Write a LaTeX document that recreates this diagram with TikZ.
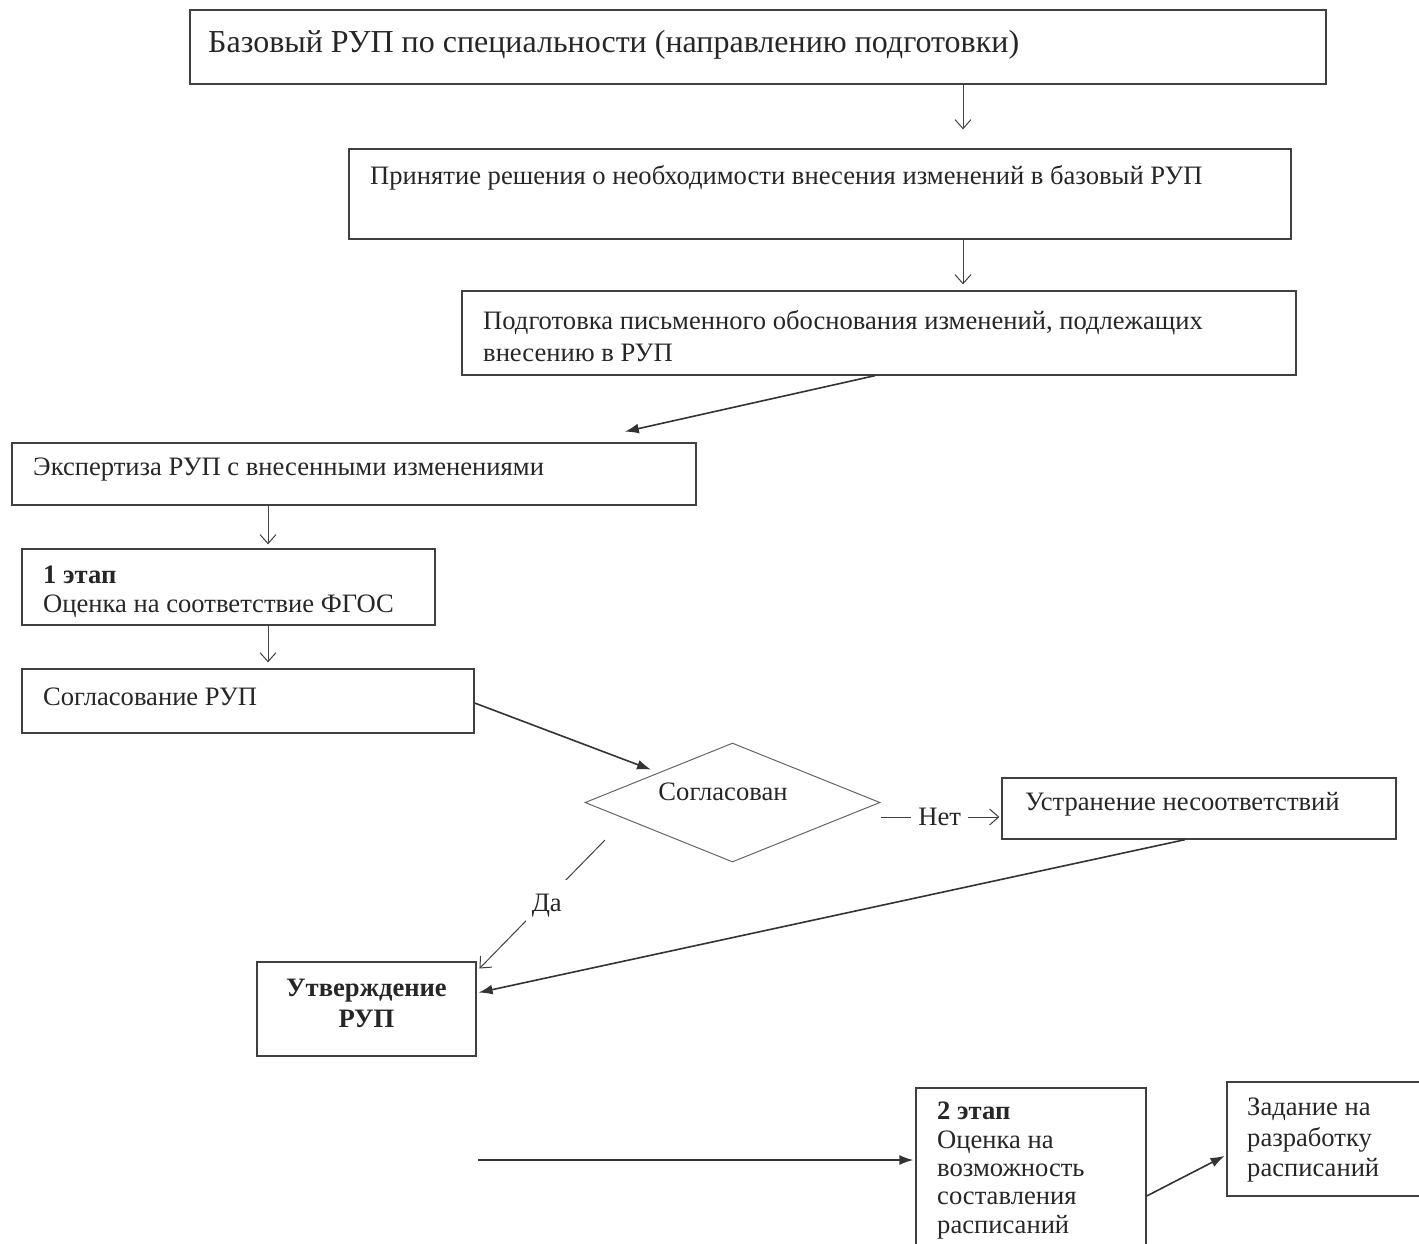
\documentclass[tikz,border=0pt]{standalone}
\usepackage{fontspec}
\setmainfont{Liberation Serif}
\usetikzlibrary{arrows.meta,shapes.geometric}
\begin{document}
\begin{tikzpicture}[x=1pt,y=-1pt,
  box/.style={draw=black!75, line width=1.3pt, rectangle, inner sep=0pt},
  txt/.style={inner sep=0pt, text=black!85, font=\fontsize{26.6}{29}\selectfont, align=left, anchor=west},
  thinarr/.style={draw=black!75, line width=1pt, -{Straight Barb[length=9pt,width=16pt]}},
  fillarr/.style={draw=black!80, line width=1.6pt, -{Latex[length=14pt,width=10pt]}},
  lbl/.style={fill=white, text=black!85, font=\fontsize{26.6}{29}\selectfont},
]
\useasboundingbox (0,0) rectangle (1419,1243);

% boxes
\node[box, minimum width=1136pt, minimum height=74pt] (b1) at (758,47) {};
\node[box, minimum width=942pt, minimum height=90pt] (b2) at (820,194) {};
\node[box, minimum width=834pt, minimum height=84pt] (b3) at (879,333) {};
\node[box, minimum width=684pt, minimum height=62pt] (b4) at (354,474) {};
\node[box, minimum width=413pt, minimum height=76pt] (b5) at (228.5,587) {};
\node[box, minimum width=452pt, minimum height=64pt] (b6) at (248,701) {};
\node[draw=black!60, line width=1pt, diamond, minimum width=295pt, minimum height=119pt, inner sep=0pt] (d) at (732.5,802.5) {};
\node[box, minimum width=394pt, minimum height=61pt] (b8) at (1199,808.5) {};
\node[box, minimum width=219pt, minimum height=94pt] (b9) at (366.5,1009) {};
\node[box, minimum width=230pt, minimum height=162pt] (b10) at (1031,1169) {};
\node[box, minimum width=200pt, minimum height=114pt] (b11) at (1327,1139) {};

% texts
\node[txt, font=\fontsize{32}{36}\selectfont] (t1) at (208,45) {Базовый РУП по специальности (направлению подготовки)};
\node[txt] (t2) at (370,178) {Принятие решения о необходимости внесения изменений в базовый РУП};
\node[txt, font=\fontsize{26.6}{32}\selectfont] (t3) at (483,336) {Подготовка письменного обоснования изменений, подлежащих\\внесению в РУП};
\node[txt] (t4) at (33,470) {Экспертиза РУП с внесенными изменениями};
\node[txt] (t5) at (43,591.5) {\textbf{1 этап}\\Оценка на соответствие ФГОС};
\node[txt] (t6) at (43,697) {Согласование РУП};
\node[txt, anchor=center] (td) at (723,792) {Согласован};
\node[txt] (t8) at (1025,804) {Устранение несоответствий};
\node[txt, anchor=center, align=center, font=\bfseries\fontsize{26.6}{31}\selectfont] (t9) at (366.5,1003.5) {Утверждение\\РУП};
\node[txt, font=\fontsize{26.6}{28.3}\selectfont] (t10) at (937,1170.5) {\textbf{2 этап}\\Оценка на\\возможность\\составления\\расписаний};
\node[txt, font=\fontsize{26.6}{30.5}\selectfont] (t11) at (1247,1140.5) {Задание на\\разработку\\расписаний};

% connectors
\draw[thinarr, shorten >=19pt] ([xshift=205pt]b1.south) -- ([xshift=143pt]b2.north);
\draw[thinarr, shorten >=6pt] ([xshift=143pt]b2.south) -- ([xshift=84pt]b3.north);
\draw[fillarr, shorten >=49pt] ([xshift=-4pt]b3.south) -- ([xshift=223pt]b4.north);
\draw[thinarr, shorten >=4pt] ([xshift=-86pt]b4.south) -- ([xshift=39.5pt]b5.north);
\draw[thinarr, shorten >=6pt] ([xshift=39.5pt]b5.south) -- ([xshift=20pt]b6.north);
\draw[fillarr, shorten >=8pt] ([yshift=-2pt]b6.east) -- (d.north west);
\draw[thinarr, shorten >=2pt] ([yshift=-14.5pt]d.east) -- node[lbl, pos=0.49, inner xsep=7pt, inner ysep=2pt] (net) {Нет} ([yshift=-8.5pt]b8.west);
\draw[thinarr, shorten >=4pt] ([xshift=-127.5pt,yshift=-37.5pt]d.center) -- node[lbl, pos=0.5, xshift=6pt, inner xsep=6pt, inner ysep=14pt] (da) {Да} ([yshift=-10pt]b9.north east);
\draw[fillarr, shorten >=2pt] ([xshift=-14pt]b8.south) -- ([yshift=16pt]b9.east);
\coordinate (free) at (478,1160);
\draw[fillarr, shorten >=2pt] (free) -- ([yshift=9pt]b10.west);
\draw[fillarr, shorten >=2pt] ([yshift=-27pt]b10.east) -- ([yshift=-16pt]b11.west);
\end{tikzpicture}
\end{document}
